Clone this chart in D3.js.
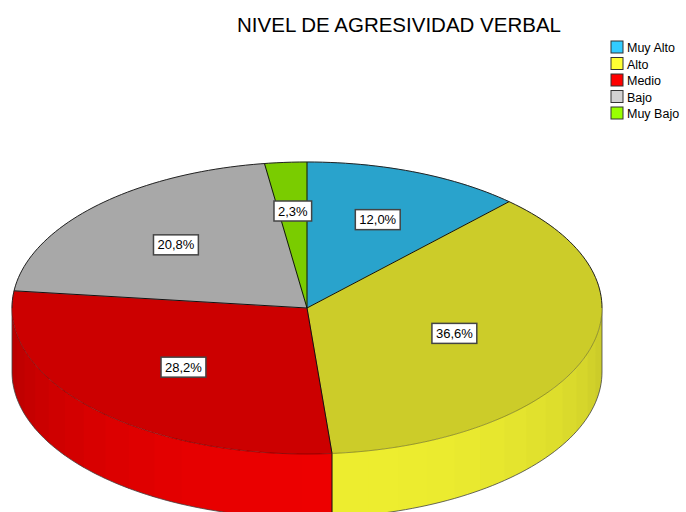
<!DOCTYPE html>
<html>
<head>
<meta charset="utf-8">
<script src="https://cdn.jsdelivr.net/npm/d3@7"></script>
<style>
  body { margin: 0; background: #fff; }
  svg text { font-family: Arial, "Liberation Sans", sans-serif; }
</style>
</head>
<body>
<div id="chart"></div>
<script>
// data
var categories = ["Muy Alto", "Alto", "Medio", "Bajo", "Muy Bajo"];
var percents = [12.0, 36.6, 28.2, 20.8, 2.3];
var baseColors = ["#33ccff", "#ffff33", "#ff0000", "#d2d2d2", "#99ff00"];
var title = "NIVEL DE AGRESIVIDAD VERBAL";

var width = 686, height = 512;
var cx = 307, cy = 308, rx = 295, ry = 146, depth = 64;

var svg = d3.select("#chart")
  .append("svg")
    .attr("width", width)
    .attr("height", height);

// title
svg.append("text")
  .attr("x", 399)
  .attr("y", 32)
  .attr("text-anchor", "middle")
  .style("font-size", "20.5px")
  .text(title);

// legend
var legend = svg.append("g").attr("transform", "translate(611,41)");
categories.forEach(function(c, i) {
  var g = legend.append("g").attr("transform", "translate(0," + (i * 16.5) + ")");
  g.append("rect")
    .attr("width", 12).attr("height", 12)
    .attr("fill", baseColors[i])
    .attr("stroke", "#333").attr("stroke-width", 1);
  g.append("text")
    .attr("x", 16).attr("y", 11)
    .style("font-size", "12.5px")
    .text(c);
});

var pie = d3.pie().sort(null).value(function(d) { return d; });
var arcs = pie(percents);

function shade(col, k) {
  var c = d3.rgb(col);
  return d3.rgb(c.r * k, c.g * k, c.b * k).toString();
}
function px(a) { return cx + rx * Math.sin(a); }
function py(a) { return cy - ry * Math.cos(a); }

// side wall (front half only: angles PI/2 .. 3PI/2)
var side = svg.append("g");
var step = Math.PI / 30;
arcs.forEach(function(d, i) {
  var a0 = Math.max(d.startAngle, Math.PI / 2);
  var a1 = Math.min(d.endAngle, 3 * Math.PI / 2);
  if (a1 <= a0) return;
  for (var a = a0; a < a1 - 1e-6; a += step) {
    // overlap a little into the next strip so no seams show
    var b = Math.min(a + step + 0.01, a1);
    var pts = [];
    var n = 6;
    for (var k = 0; k <= n; k++) { var t = a + (b - a) * k / n; pts.push([px(t), py(t)]); }
    for (var k = n; k >= 0; k--) { var t = a + (b - a) * k / n; pts.push([px(t), py(t) + depth]); }
    var mid = a + step / 2;
    var f = 0.74 + 0.19 * Math.cos(mid - 170 * Math.PI / 180);
    side.append("path")
      .attr("d", d3.line()(pts) + "Z")
      .attr("fill", shade(baseColors[i], f));
  }
});

// side outline: bottom curve + vertical edges + slice dividers on the wall
var bottom = d3.range(0, 121).map(function(k) {
  var t = Math.PI / 2 + Math.PI * k / 120;
  return [px(t), py(t) + depth];
});
side.append("path")
  .attr("d", d3.line()(bottom))
  .attr("fill", "none").attr("stroke", "#444").attr("stroke-width", 0.8);
[Math.PI / 2, 3 * Math.PI / 2].forEach(function(a) {
  side.append("line")
    .attr("x1", px(a)).attr("y1", py(a))
    .attr("x2", px(a)).attr("y2", py(a) + depth)
    .attr("stroke", "#444").attr("stroke-width", 0.8);
});
arcs.forEach(function(d) {
  var a = d.endAngle;
  if (a > Math.PI / 2 && a < 3 * Math.PI / 2) {
    side.append("line")
      .attr("x1", px(a)).attr("y1", py(a))
      .attr("x2", px(a)).attr("y2", py(a) + depth)
      .attr("stroke", "#111").attr("stroke-width", 1);
  }
});

// top face
var arc = d3.arc().innerRadius(0).outerRadius(rx);
var topFace = svg.append("g")
  .attr("transform", "translate(" + cx + "," + cy + ") scale(1," + (ry / rx) + ")");
topFace.selectAll("path.slice")
  .data(arcs)
  .enter()
  .append("path")
    .attr("class", "slice")
    .attr("d", arc)
    .attr("fill", function(d, i) { return shade(baseColors[i], 0.8); })
    .attr("stroke", function(d, i) { return shade(baseColors[i], 0.8); })
    .attr("stroke-width", 0.5)
    .attr("vector-effect", "non-scaling-stroke");

// radial dividers
arcs.forEach(function(d) {
  svg.append("line")
    .attr("x1", cx).attr("y1", cy)
    .attr("x2", px(d.startAngle)).attr("y2", py(d.startAngle))
    .attr("stroke", "#111").attr("stroke-width", 1);
});
// rim: back half dark, front half faint
var backRim = d3.range(0, 121).map(function(k) {
  var t = -Math.PI / 2 + Math.PI * k / 120;
  return [px(t), py(t)];
});
var frontRim = d3.range(0, 121).map(function(k) {
  var t = Math.PI / 2 + Math.PI * k / 120;
  return [px(t), py(t)];
});
svg.append("path").attr("d", d3.line()(backRim))
  .attr("fill", "none").attr("stroke", "#222").attr("stroke-width", 1);
svg.append("path").attr("d", d3.line()(frontRim))
  .attr("fill", "none").attr("stroke", "rgba(0,0,0,0.3)").attr("stroke-width", 1);

// labels at the slice centroid
var labels = svg.append("g");
arcs.forEach(function(d, i) {
  var al = d.endAngle - d.startAngle;
  var m = (d.startAngle + d.endAngle) / 2;
  var rc = 4 * Math.sin(al / 2) / (3 * al);
  var x = cx + rx * rc * Math.sin(m);
  var y = cy - ry * rc * Math.cos(m);
  var g = labels.append("g");
  var txt = g.append("text")
    .attr("x", x).attr("y", y + 4.5)
    .attr("text-anchor", "middle")
    .style("font-size", "13px")
    .text(percents[i].toFixed(1).replace(".", ",") + "%");
  var w = txt.node().getComputedTextLength();
  g.insert("rect", "text")
    .attr("x", x - w / 2 - 4).attr("y", y - 10)
    .attr("width", w + 8).attr("height", 20)
    .attr("fill", "#fff")
    .attr("stroke", "#444").attr("stroke-width", 1.5);
});
</script>
</body>
</html>
